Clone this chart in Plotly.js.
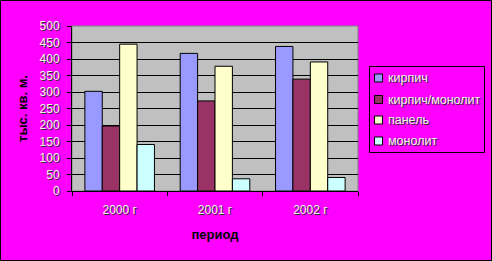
<!DOCTYPE html>
<html><head><meta charset="utf-8">
<script src="https://cdn.plot.ly/plotly-3.0.1.min.js"></script>
<style>html,body{margin:0;padding:0;background:#FF00FF;}#c{width:490px;height:259px;border:1px solid #000;}</style>
</head><body><div id="c"></div>
<script>
const categories = ['2000 г', '2001 г', '2002 г'];
const seriesNames = ['кирпич', 'кирпич/монолит', 'панель', 'монолит'];
const kirpich = [302, 417, 438];
const kirpichMonolit = [197, 273, 339];
const panel = [445, 378, 391];
const monolit = [141, 37, 41];
const yTicks = [0, 50, 100, 150, 200, 250, 300, 350, 400, 450, 500];

const colors = ['#9999FF', '#993366', '#FFFFCC', '#CCFFFF'];
const values = [kirpich, kirpichMonolit, panel, monolit];
const FAM = 'Liberation Sans, Arial, sans-serif';
const lightFont = {family: FAM, size: 12, color: '#f4f4f4', shadow: '1px 1px 0px #303030'};

// plot area in page pixels: left 72, right 358, top 26, bottom 191
const PL = 72, PR = 358, PT = 26, PB = 191;
const px = X => (X - PL) / (PR - PL);
const py = Y => (PB - Y) / (PB - PT);

const traces = values.map((v, i) => ({
  type: 'bar', name: seriesNames[i], x: categories, y: v,
  marker: {color: colors[i], line: {color: '#000', width: 1}}
}));

const shapes = [
  {type: 'rect', xref: 'paper', yref: 'paper', x0: 0, x1: 1, y0: 0, y1: 1,
    line: {color: '#808080', width: 1}, layer: 'below'},
  // legend box
  {type: 'rect', xref: 'paper', yref: 'paper', x0: px(369.5), x1: px(484.5), y0: py(152.5), y1: py(66.5),
    line: {color: '#000', width: 1}, fillcolor: 'rgba(0,0,0,0)'}
];
const annotations = [];
const legendRows = [78, 99.5, 120, 141];
seriesNames.forEach((name, i) => {
  const cy = legendRows[i];
  shapes.push({type: 'rect', xref: 'paper', yref: 'paper',
    x0: px(374.5), x1: px(382.5), y0: py(cy + 4), y1: py(cy - 4),
    line: {color: '#000', width: 1}, fillcolor: colors[i]});
  annotations.push({xref: 'paper', yref: 'paper', x: px(386), y: py(cy),
    xanchor: 'left', yanchor: 'middle', showarrow: false, text: name,
    font: {family: FAM, size: 12.5, color: '#f4f4f4', shadow: '1px 1px 0px #303030'}});
});

const layout = {
  width: 490, height: 259,
  margin: {l: 71, r: 133, t: 25, b: 69},
  paper_bgcolor: '#FF00FF', plot_bgcolor: '#C0C0C0',
  barmode: 'group', bargap: 0.27, bargroupgap: 0,
  showlegend: false,
  xaxis: {type: 'category', tickson: 'boundaries', ticks: 'outside', ticklen: 4, tickcolor: '#000',
    showline: true, linecolor: '#000', linewidth: 1, showgrid: false,
    tickfont: lightFont, ticklabelstandoff: 8,
    title: {text: 'период', font: {family: FAM, size: 13, color: '#000', weight: 'bold'}, standoff: 13}},
  yaxis: {range: [0, 500], tickvals: yTicks, ticks: 'outside', ticklen: 4, tickcolor: '#000',
    showline: true, linecolor: '#000', linewidth: 1, gridcolor: '#000', gridwidth: 1,
    zeroline: false, tickfont: lightFont, ticklabelstandoff: 5,
    title: {text: 'тыс. кв. м.', font: {family: FAM, size: 13, color: '#000', weight: 'bold'}, standoff: 9}},
  shapes: shapes,
  annotations: annotations
};
Plotly.newPlot('c', traces, layout, {displayModeBar: false, staticPlot: true});
</script></body></html>
